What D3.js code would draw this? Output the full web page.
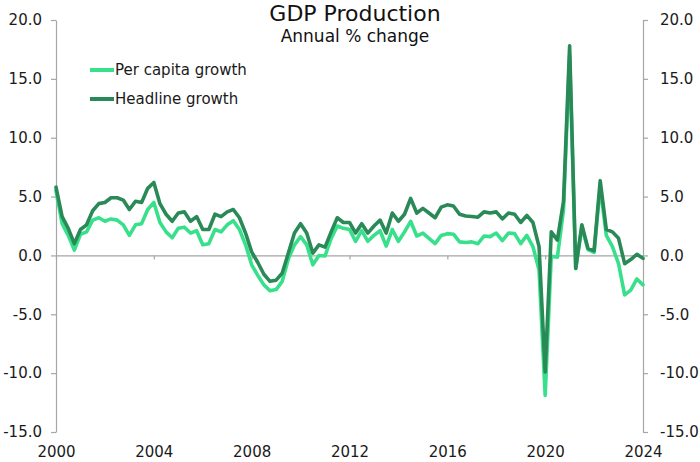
<!DOCTYPE html>
<html>
<head>
<meta charset="utf-8">
<script src="https://cdn.jsdelivr.net/npm/d3@7"></script>
<style>
  html, body { margin: 0; padding: 0; background: #fff; }
  svg { display: block; font-family: "DejaVu Sans", sans-serif; }
</style>
</head>
<body>
<svg id="chart" width="700" height="462"></svg>
<script>
// ---- Data (quarterly, starting 2000 Q1) ----
const startYear = 2000;
const headlineGrowth = [
  5.8, 3.3, 2.3, 1.0, 2.2, 2.6, 3.8, 4.4, 4.5, 4.9, 4.9, 4.7,
  3.9, 4.6, 4.5, 5.7, 6.2, 4.4, 3.5, 2.9, 3.6, 3.7, 2.9, 3.3,
  2.2, 2.2, 3.5, 3.3, 3.7, 3.9, 3.2, 1.9, 0.3, -0.6, -1.6, -2.2,
  -2.1, -1.5, 0.2, 1.9, 2.7, 1.9, 0.2, 0.9, 0.7, 2.0, 3.2, 2.8,
  2.8, 1.9, 2.7, 1.9, 2.5, 3.0, 1.9, 3.6, 2.9, 3.5, 4.85, 3.6,
  4.0, 3.6, 3.2, 4.1, 4.3, 4.2, 3.5, 3.35, 3.3, 3.25, 3.7, 3.6,
  3.7, 3.1, 3.6, 3.5, 2.8, 3.4, 2.8, 0.75, -9.9, 2.0, 1.3, 4.6,
  17.8, -1.1, 2.6, 0.6, 0.4, 6.35, 2.2, 2.0, 1.45, -0.7, -0.35, 0.1,
  -0.25
];
const perCapitaGrowth = [
  5.5, 2.7, 1.7, 0.45, 1.8, 2.0, 3.0, 3.2, 2.9, 3.1, 3.0, 2.6,
  1.7, 2.6, 2.7, 3.9, 4.5, 2.8, 2.0, 1.5, 2.3, 2.4, 1.9, 2.1,
  0.9, 1.0, 2.2, 2.0, 2.6, 2.95, 2.2, 0.9, -0.8, -1.7, -2.5, -3.0,
  -2.9, -2.2, -0.3, 0.9, 1.6, 0.9, -0.8, 0.0, -0.05, 1.45, 2.5, 2.3,
  2.2, 1.2, 2.1, 1.2, 1.7, 2.1, 0.8, 2.2, 1.2, 2.0, 2.9, 1.65,
  1.9, 1.45, 1.0, 1.7, 1.85, 1.8, 1.15, 1.1, 1.15, 1.0, 1.65, 1.6,
  1.9, 1.25, 1.9, 1.85, 1.0, 1.7, 0.75, -1.25, -11.9, -0.05, -0.15, 3.85,
  17.0, -1.1, 2.4, 0.5, 0.25, 5.85, 1.7, 0.75, -0.7, -3.35, -2.95, -2.0,
  -2.5
];
const xTickYears = [2000, 2004, 2008, 2012, 2016, 2020, 2024];
const yTickValues = [-15, -10, -5, 0, 5, 10, 15, 20];
const seriesNames = ["Per capita growth", "Headline growth"];
const seriesColors = ["#38e08c", "#2a8a57"];
const titleText = "GDP Production";
const subtitleText = "Annual % change";

// ---- Layout ----
const svg = d3.select("#chart");
const plotLeft = 56, plotRight = 643, plotTop = 20, plotBottom = 432;

const x = d3.scaleLinear().domain([2000, 2024]).range([plotLeft, plotRight]);
const y = d3.scaleLinear().domain([-15, 20]).range([plotBottom, plotTop]);
const fmt = d => d.toFixed(1);

const axisColor = "#a6a6a6";

// Left axis
const gl = svg.append("g").attr("transform", `translate(${plotLeft},0)`)
  .call(d3.axisLeft(y).tickValues(yTickValues).tickFormat(fmt).tickSize(5).tickSizeOuter(0).tickPadding(9));
// Right axis
const gr = svg.append("g").attr("transform", `translate(${plotRight},0)`)
  .call(d3.axisRight(y).tickValues(yTickValues).tickFormat(fmt).tickSize(5).tickSizeOuter(0).tickPadding(12));
// Bottom axis at zero, labels at the bottom of the plot
const gb = svg.append("g").attr("transform", `translate(0,${y(0)})`)
  .call(d3.axisBottom(x).tickValues(xTickYears).tickFormat(d3.format("d")).tickSize(4).tickSizeOuter(0)
    .tickPadding(plotBottom + 14 - y(0) - 4));

[gl, gr, gb].forEach(g => {
  g.selectAll(".domain").attr("stroke", axisColor).attr("stroke-width", 1.2);
  g.selectAll(".tick line").attr("stroke", axisColor).attr("stroke-width", 1.2);
  g.selectAll(".tick text").attr("fill", "#1a1a1a").style("font-size", "15px")
    .style("font-family", "'DejaVu Sans', sans-serif");
});

// Lines
const quarterX = (d, i) => x(startYear + i / 4);
const line = d3.line().x(quarterX).y(d => y(d)).curve(d3.curveLinear);
const series = [perCapitaGrowth, headlineGrowth];
series.forEach((s, k) => {
  svg.append("path")
    .datum(s)
    .attr("fill", "none")
    .attr("stroke", seriesColors[k])
    .attr("stroke-width", 3.6)
    .attr("stroke-linejoin", "round")
    .attr("stroke-linecap", "round")
    .attr("d", line);
});

// Title
svg.append("text").attr("x", 355).attr("y", 21).attr("text-anchor", "middle")
  .style("font-size", "22px").attr("fill", "#111").text(titleText);
svg.append("text").attr("x", 355).attr("y", 42).attr("text-anchor", "middle")
  .style("font-size", "17px").attr("fill", "#111").text(subtitleText);

// Legend
const legendY = [70, 99];
seriesNames.forEach((name, k) => {
  svg.append("line").attr("x1", 90).attr("x2", 114)
    .attr("y1", legendY[k]).attr("y2", legendY[k])
    .attr("stroke", seriesColors[k]).attr("stroke-width", 4);
  svg.append("text").attr("x", 115).attr("y", legendY[k]).attr("dy", "0.35em")
    .style("font-size", "15px").attr("fill", "#1a1a1a").text(name);
});
</script>
</body>
</html>
